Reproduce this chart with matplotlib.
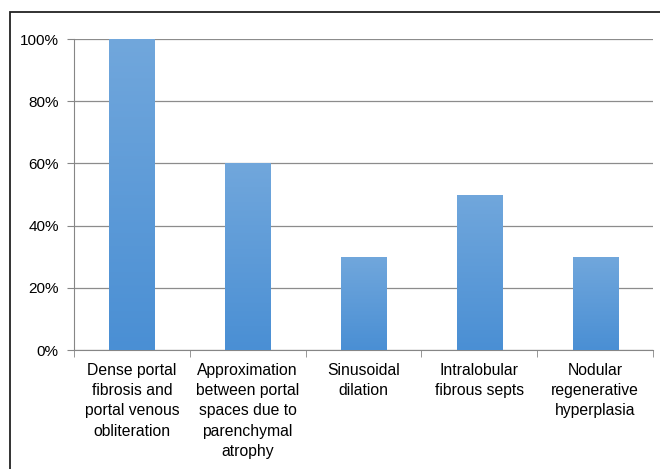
import matplotlib.pyplot as plt
import numpy as np
from matplotlib.patches import Rectangle
from matplotlib.colors import LinearSegmentedColormap

# lesion frequencies
categories = [
    'Dense portal\nfibrosis and\nportal venous\nobliteration',
    'Approximation\nbetween portal\nspaces due to\nparenchymal\natrophy',
    'Sinusoidal\ndilation',
    'Intralobular\nfibrous septs',
    'Nodular\nregenerative\nhyperplasia',
]
values = [100, 60, 30, 50, 30]
yticks = [0, 20, 40, 60, 80, 100]

plt.rcParams['font.family'] = ['Liberation Sans', 'DejaVu Sans']

fig = plt.figure(figsize=(6.6, 4.69), dpi=100)
ax = fig.add_axes([74 / 660, 1 - 350 / 469, 579 / 660, 311 / 469])

x = np.arange(len(values))
bars = ax.bar(x, values, width=0.39, color='#5b9bd5', zorder=2)

# vertical gradient on each bar, lighter at the top
cmap = LinearSegmentedColormap.from_list('blu', ['#4a8fd4', '#71a7dc'])
grad = np.linspace(0, 1, 256).reshape(-1, 1)
for b in bars:
    im = ax.imshow(grad, cmap=cmap, origin='lower', aspect='auto', zorder=3,
                   extent=[b.get_x(), b.get_x() + b.get_width(), 0, b.get_height()])
    im.set_clip_path(b)

ax.set_xlim(-0.5, len(values) - 0.5)
ax.set_ylim(0, 100)
ax.set_yticks(yticks)
ax.set_yticklabels([f'{t}%' for t in yticks], fontsize=11)
ax.set_xticks(x)
ax.set_xticklabels(categories, fontsize=11.3, linespacing=1.45)
ax.set_xticks(np.arange(len(values) + 1) - 0.5, minor=True)
ax.tick_params(axis='x', which='major', length=0, pad=9)
ax.tick_params(axis='x', which='minor', length=5, color='#868686')
ax.tick_params(axis='y', length=5, color='#868686', pad=6)

ax.grid(axis='y', color='#8c8c8c', linewidth=0.9, zorder=0)
for s in ['top', 'right']:
    ax.spines[s].set_visible(False)
ax.spines['left'].set_color('#868686')
ax.spines['bottom'].set_color('#868686')

# outer frame of the chart
fig.patches.append(Rectangle((10 / 660, -0.05), 1.0, 1 - 12 / 469 + 0.05,
                             transform=fig.transFigure, fill=False,
                             edgecolor='#222222', linewidth=1.3))

fig.savefig('out.png', dpi=100)
